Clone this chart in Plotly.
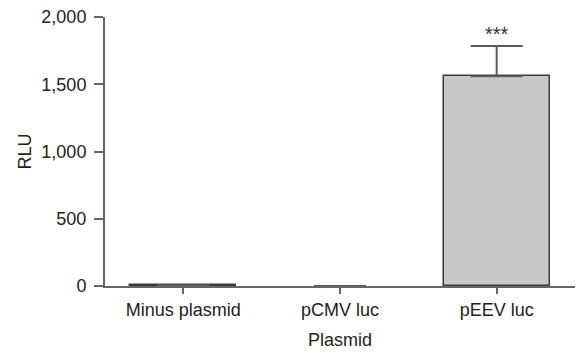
import plotly.graph_objects as go

categories = ["Minus plasmid", "pCMV luc", "pEEV luc"]
values = [8, 0, 1560]
errors_plus = [0, 0, 224]
annotation_text = ["", "", "***"]
y_ticks = [0, 500, 1000, 1500, 2000]
y_tick_labels = ["0", "500", "1,000", "1,500", "2,000"]

font = "Liberation Sans, Arial, sans-serif"
axis_col = "#666666"

fig = go.Figure()
fig.add_trace(go.Bar(
    x=categories, y=values, width=0.675,
    marker=dict(color="#c8c8c8",
                line=dict(color="#3a3a3a", width=[1.5 if v else 0 for v in values])),
    error_y=dict(type="data", array=errors_plus, arrayminus=[0, 0, 0],
                 symmetric=False, visible=True, color="#5a5a5a",
                 thickness=2, width=26),
    showlegend=False, hoverinfo="skip",
))
for c, v, e, t in zip(categories, values, errors_plus, annotation_text):
    if t:
        fig.add_annotation(x=c, y=v + e, text=t, showarrow=False, yshift=12,
                           font=dict(family=font, size=20, color="#333"))

fig.update_layout(
    width=578, height=354,
    margin=dict(l=105, r=3, t=17, b=68),
    plot_bgcolor="white", paper_bgcolor="white",
    font=dict(family=font, size=18, color="#222"),
    bargap=0,
)
fig.update_xaxes(
    range=[-0.5, 2.5], showline=True, linecolor=axis_col, linewidth=2,
    ticks="outside", ticklen=6, tickwidth=2, tickcolor=axis_col,
    title=dict(text="Plasmid", standoff=15, font=dict(size=18)),
    tickfont=dict(size=18), showgrid=False, zeroline=False, automargin=False,
)
fig.update_yaxes(
    range=[0, 2000], showline=True, linecolor=axis_col, linewidth=2,
    ticks="outside", ticklen=9, tickwidth=2, tickcolor=axis_col,
    tickvals=y_ticks, ticktext=y_tick_labels, tickfont=dict(size=18),
    ticklabelstandoff=4,
    title=dict(text="RLU", standoff=5, font=dict(size=18)),
    showgrid=False, zeroline=False, automargin=False,
)
fig.write_html("out.html", config={"displayModeBar": False},
               post_script="document.body.style.margin='0';")
